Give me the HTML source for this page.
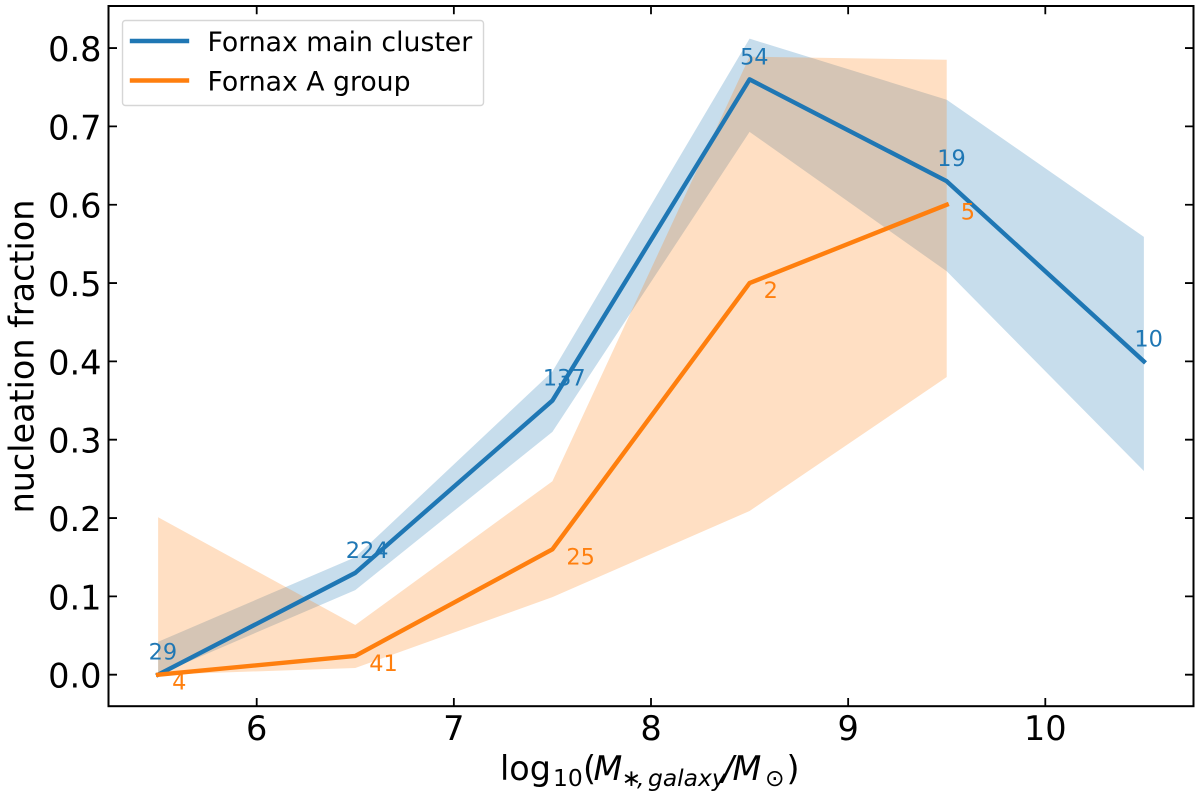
<!DOCTYPE html>
<html>
<head>
<meta charset="utf-8">
<title>Nucleation fraction chart</title>
<style>
html,body{margin:0;padding:0;background:#fff;}
svg{display:block;}
text{font-family:"DejaVu Sans","Liberation Sans",sans-serif;}
</style>
</head>
<body>
<svg id="chart" xmlns="http://www.w3.org/2000/svg" width="1200" height="800" viewBox="0 0 1200 800">
  <rect width="1200" height="800" fill="#fff"/>
  <g id="bands"></g>
  <g id="lines"></g>
  <g id="labels"></g>
  <g id="ticks"></g>
  <rect x="108.5" y="6" width="1085" height="700.2" fill="none" stroke="#000" stroke-width="2"/>
  <g>
    <rect x="122.5" y="20.5" width="361" height="85" rx="3" fill="#fff" fill-opacity="0.8" stroke="#ccc" stroke-opacity="0.8" stroke-width="1.4"/>
    <line x1="132" y1="41" x2="187" y2="41" stroke="#1f77b4" stroke-width="4.4" stroke-linecap="square"/>
    <text x="207.5" y="51" font-size="26.7" fill="#000">Fornax main cluster</text>
    <line x1="132" y1="80.5" x2="187" y2="80.5" stroke="#ff7f0e" stroke-width="4.4" stroke-linecap="square"/>
    <text x="207.5" y="90.5" font-size="26.7" fill="#000">Fornax A group</text>
  </g>
  <text y="780" font-size="33.4" fill="#000"><tspan x="500">log</tspan><tspan x="553" y="786" font-size="23.4">10</tspan><tspan x="583" y="780">(</tspan><tspan x="593.5" font-style="italic">M</tspan><tspan x="621.5" y="786" font-size="23.4">∗</tspan><tspan x="637" font-size="23.4" font-style="italic">,</tspan><tspan x="648" font-size="23.4" font-style="italic">galaxy</tspan><tspan x="722.5" y="780" font-style="italic">/</tspan><tspan x="732.5" font-style="italic">M</tspan><tspan x="765" y="786" font-size="23.4">⊙</tspan><tspan x="786.5" y="780">)</tspan></text>
  <text transform="translate(33.3,356.5) rotate(-90)" text-anchor="middle" font-size="33.4" fill="#000">nucleation fraction</text>
</svg>
<script>
var massBins = [5.5, 6.5, 7.5, 8.5, 9.5, 10.5];
var mainFraction = [0, 0.13, 0.35, 0.76, 0.63, 0.40];
var mainUpper = [0.042, 0.15, 0.387, 0.812, 0.734, 0.559];
var mainLower = [0, 0.108, 0.31, 0.693, 0.515, 0.26];
var mainCounts = [29, 224, 137, 54, 19, 10];
var groupFraction = [0, 0.024, 0.16, 0.5, 0.6];
var groupUpper = [0.201, 0.0634, 0.247, 0.789, 0.785];
var groupLower = [0, 0.0085, 0.099, 0.209, 0.38];
var groupCounts = [4, 41, 25, 2, 5];
var xTickValues = [6, 7, 8, 9, 10];
var yTickValues = [0, 0.1, 0.2, 0.3, 0.4, 0.5, 0.6, 0.7, 0.8];

var NS = 'http://www.w3.org/2000/svg';
function xScale(v) { return 256.7 + (v - 6) * 197.15; }
function yScale(v) { return 674.7 - v * 783.3; }
function make(tag, parent, attrs) {
  var el = document.createElementNS(NS, tag);
  for (var k in attrs) { el.setAttribute(k, attrs[k]); }
  parent.appendChild(el);
  return el;
}
function linePoints(values) {
  return values.map(function (v, i) { return xScale(massBins[i]).toFixed(2) + ',' + yScale(v).toFixed(2); });
}
function bandPoints(upper, lower) {
  var top = linePoints(upper);
  var bottom = linePoints(lower).reverse();
  return top.concat(bottom).join(' ');
}

var bands = document.getElementById('bands');
var lines = document.getElementById('lines');
var labels = document.getElementById('labels');
var ticks = document.getElementById('ticks');

var mainBand = make('polygon', bands, { points: bandPoints(mainUpper, mainLower), fill: '#1f77b4', 'fill-opacity': 0.25 });


var groupBand = make('polygon', bands, { points: bandPoints(groupUpper, groupLower), fill: '#ff7f0e', 'fill-opacity': 0.25 });



var mainLine = make('polyline', lines, { points: linePoints(mainFraction).join(' '), fill: 'none', stroke: '#1f77b4', 'stroke-width': 4.4, 'stroke-linecap': 'square', 'stroke-linejoin': 'round' });


var groupLine = make('polyline', lines, { points: linePoints(groupFraction).join(' '), fill: 'none', stroke: '#ff7f0e', 'stroke-width': 4.4, 'stroke-linecap': 'square', 'stroke-linejoin': 'round' });



mainCounts.forEach(function (c, i) {
  var t = make('text', labels, { x: xScale(massBins[i]) - 9.5, y: yScale(mainFraction[i]) - 15, 'font-size': 22.4, fill: '#1f77b4' });
  t.textContent = c;
  
  
});
groupCounts.forEach(function (c, i) {
  var t = make('text', labels, { x: xScale(massBins[i]) + 14, y: yScale(groupFraction[i]) + 15, 'font-size': 22.4, fill: '#ff7f0e' });
  t.textContent = c;
  
  
});

xTickValues.forEach(function (v) {
  var x = xScale(v);
  var d = 'M' + x + ' 706.2V698M' + x + ' 6V14.2';
  var m = make('path', ticks, { d: d, stroke: '#000', 'stroke-width': 1.8, fill: 'none' });
  
  
  var t = make('text', ticks, { x: x, y: 740.2, 'text-anchor': 'middle', 'font-size': 33.6, fill: '#000' });
  t.textContent = String(v);
  
  
});
yTickValues.forEach(function (v) {
  var y = yScale(v);
  var d = 'M108.5 ' + y + 'H117M1193.5 ' + y + 'H1185';
  var m = make('path', ticks, { d: d, stroke: '#000', 'stroke-width': 1.8, fill: 'none' });
  
  
  var t = make('text', ticks, { x: 101.5, y: y + 13, 'text-anchor': 'end', 'font-size': 33.6, fill: '#000' });
  t.textContent = v.toFixed(1);
  
  
});
</script>
</body>
</html>
